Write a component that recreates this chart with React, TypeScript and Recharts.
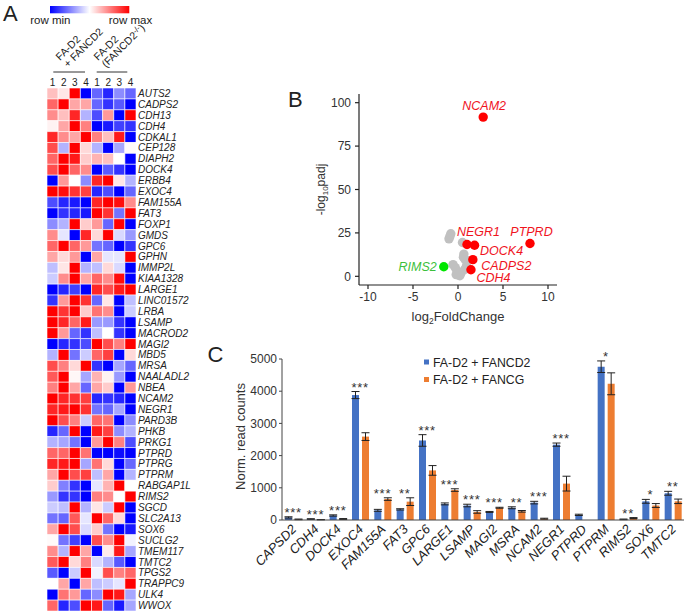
import React from "react";
import {
  Bar,
  BarChart,
  Cell,
  ComposedChart,
  ErrorBar,
  Scatter,
  ScatterChart,
  XAxis,
  YAxis
} from "recharts";

const FONT = '"Liberation Sans", Arial, sans-serif';
const INK = "#222";

// ---- panel A: heatmap (row-scaled, -1 = row min, 1 = row max)
const heatGenes = [
  "AUTS2", "CADPS2", "CDH13", "CDH4", "CDKAL1", "CEP128", "DIAPH2", "DOCK4",
  "ERBB4", "EXOC4", "FAM155A", "FAT3", "FOXP1", "GMDS", "GPC6", "GPHN",
  "IMMP2L", "KIAA1328", "LARGE1", "LINC01572", "LRBA", "LSAMP", "MACROD2", "MAGI2",
  "MBD5", "MRSA", "NAALADL2", "NBEA", "NCAM2", "NEGR1", "PARD3B", "PHKB",
  "PRKG1", "PTPRD", "PTPRG", "PTPRM", "RABGAP1L", "RIMS2", "SGCD", "SLC2A13",
  "SOX6", "SUCLG2", "TMEM117", "TMTC2", "TPGS2", "TRAPPC9", "ULK4", "WWOX"
];
const sampleLabels = ["1", "2", "3", "4", "1", "2", "3", "4"];
const heatValues = [
  [0.25, 0.1, 1, -1, -0.6, -0.85, -0.45, -0.6],
  [0.6, 1, 0.35, 0.35, -0.6, -0.8, -0.65, -1],
  [0.45, 0.25, 0.85, -0.3, -0.7, 0.4, -1, 1],
  [0.05, 0.35, 1, 0.5, -1, -0.9, -0.75, -0.8],
  [0.85, 0.45, 0.35, 1, 0.5, 0.25, 0.9, -1],
  [0.7, -0.3, 1, 0.15, -0.3, -1, -0.35, 0.02],
  [0.6, 1, 0.9, 0.2, 0.3, 0.25, 0, -1],
  [0.7, 1, 0.6, 0.45, -1, -0.65, -0.8, -1],
  [-1, 0.4, 0, -0.45, 0.85, 1, 0.1, -0.3],
  [1, 0.95, 0.8, 0.75, -0.85, -0.7, -1, -0.6],
  [-0.7, -0.85, -0.9, -1, 0.85, 1, 0.95, 0.45],
  [-1, -0.8, -0.85, -0.9, 1, 0.8, -0.55, 1],
  [-0.45, -0.3, 1, 0.2, 0.4, -0.6, 1, -1],
  [0.45, -0.1, -1, 0.85, 0.15, 1, -0.15, -0.4],
  [0.6, 1, 0.6, 0.4, -0.55, -0.6, -1, -0.8],
  [0.35, 0.15, 0.4, -1, 0.35, -0.1, -0.1, 1],
  [-0.25, 0.1, 1, -0.3, -0.25, 0.15, -0.15, -1],
  [-0.2, 0.45, 1, 0.35, 0.6, 0.45, 0.95, -1],
  [-1, -0.85, -0.75, -1, 0.85, 0.7, 0.9, 1],
  [-0.8, 0.4, 1, 0.8, -0.6, 0.1, -1, -0.25],
  [1, 0.8, 1, 0.2, 0.55, 0.45, -1, -0.2],
  [1, 0.85, 0.6, 0.9, -0.4, -0.4, -0.8, -1],
  [1, 0.4, -0.6, -0.8, -0.25, 0, -0.8, -1],
  [-1, -0.85, -0.8, -0.7, 1, 0.7, 0.5, 1],
  [-0.3, 1, -0.55, -0.2, 0.6, 0.75, -1, 0.15],
  [0.7, 0.5, 0.15, 1, -0.8, -1, -0.35, -0.6],
  [0.65, 1, 0.03, -0.35, 0.3, 0.05, -0.4, -1],
  [0.5, 1, 0.35, -0.6, 0.35, 0.2, -1, 0.4],
  [1, 0.85, 0.8, 0.75, -0.85, -0.8, -0.85, -1],
  [0.85, 0.9, 1, 0.8, -0.55, -0.6, -0.35, -1],
  [1, 0.7, 0.5, -0.2, 0.6, 0.55, -1, -0.45],
  [-0.85, -0.6, 1, -1, 0.9, 0.75, -0.45, -0.3],
  [-0.3, -0.35, -0.55, -1, 0.4, 1, 0.5, -0.7],
  [0.6, 0.6, 1, 0.55, -1, -1, -0.95, -1],
  [0.85, 0.9, 1, -0.35, 0.55, 0.15, -1, -0.6],
  [0.35, 1, 0.7, 0.75, -0.25, 0.35, -1, -0.3],
  [0.2, -0.5, -0.8, -1, -0.1, 0.3, 1, 0],
  [-0.4, -0.8, -0.8, -1, 0.5, 0.45, 0, 1],
  [-0.2, -0.25, 1, -0.3, 0.1, -0.2, 1, -1],
  [-0.55, -0.6, 0.65, -0.1, 1, 0.6, 0.15, -1],
  [0.35, 1, 0.7, -0.15, 0.2, -0.55, -1, -0.9],
  [0.02, -0.55, -0.75, -1, 0.7, 0.45, 1, -0.05],
  [0.45, -0.3, 1, 0.35, -1, 0.08, 0.9, -0.35],
  [0.65, 1, 0.15, 0.5, -0.15, -0.3, -0.65, -1],
  [-0.65, -1, -0.2, 1, -0.05, 0.7, 0.5, 0.6],
  [0, 0.35, -1, 0.35, -0.25, -0.2, -0.1, 1],
  [-1, 0.55, 0.4, -0.6, -0.45, 1, 0.9, -0.35],
  [0.6, -0.85, -0.7, 1, 0.9, -0.6, -0.9, -0.35]
];

// ---- panel B: volcano
const greyLfc = [-0.8, -1.0, -0.9, 0.5, 0.65, 0.8, 0.6, -0.55, -0.3, -0.2, 0.35, 0.2, 0.75, 0.05, 0.95, -0.1];
const greyPadj = [24.5, 21.6, 23.0, 19.5, 12.8, 9.6, 11.0, 6.7, 5.0, 1.0, 2.0, 0.3, 4.0, 0.8, 6.0, 3.0];
const hitGenes = ["NCAM2", "NEGR1", "DOCK4", "CADPS2", "CDH4", "PTPRD", "RIMS2"];
const hitLfc = [2.8, 1.0, 1.84, 1.65, 1.44, 8.0, -1.58];
const hitPadj = [91.7, 18.3, 17.9, 9.6, 3.8, 18.9, 5.5];

// ---- panel C: normalised read counts
const barGenes = [
  "CAPSD2", "CDH4", "DOCK4", "EXOC4", "FAM155A", "FAT3", "GPC6", "LARGE1", "LSAMP",
  "MAGI2", "MSRA", "NCAM2", "NEGR1", "PTPRD", "PTPRM", "RIMS2", "SOX6", "TMTC2"
];
const fancd2Mean = [80, 30, 140, 3880, 300, 330, 2470, 500, 450, 250, 380, 540, 2340, 160, 4760, 20, 580, 830];
const fancd2Err = [20, 10, 20, 110, 30, 20, 180, 30, 40, 15, 30, 40, 50, 20, 180, 10, 60, 60];
const fancgMean = [20, 10, 30, 2590, 650, 570, 1540, 930, 250, 380, 270, 40, 1130, 0, 4230, 60, 450, 580];
const fancgErr = [10, 5, 15, 120, 40, 120, 150, 40, 40, 15, 25, 15, 230, 0, 340, 15, 60, 70];
const significance = ["***", "***", "***", "***", "***", "**", "***", "***", "***", "***", "**", "***", "***", "", "*", "**", "*", "**"];

const barSeries = [
  { key: "rescue", name: "FA-D2 + FANCD2", color: "#4472c4" },
  { key: "control", name: "FA-D2 + FANCG", color: "#ed7d31" }
];

function heatColor(v: number) {
  const k = Math.round(255 * (1 - Math.abs(v)));
  return v >= 0 ? `rgb(255,${k},${k})` : `rgb(${k},${k},255)`;
}

const heatRows = heatGenes.map((gene) => {
  const row: Record<string, string | number> = { gene };
  sampleLabels.forEach((_, j) => {
    row[`s${j}`] = 1;
  });
  return row;
});

const greyPoints = greyLfc.map((lfc, i) => ({ lfc, padj: greyPadj[i] }));
const hitPoints = hitGenes.map((gene, i) => ({ gene, lfc: hitLfc[i], padj: hitPadj[i] }));

const barRows = barGenes.map((gene, i) => ({
  gene,
  rescue: fancd2Mean[i],
  rescueErr: fancd2Err[i],
  control: fancgMean[i],
  controlErr: fancgErr[i],
  starTop: Math.max(fancd2Mean[i] + fancd2Err[i], fancgMean[i] + fancgErr[i]),
  sig: significance[i]
}));

// label placement next to each highlighted dot: [dx, dy, anchor]
const hitLabelOffset: Record<string, [number, number, string]> = {
  NCAM2: [1, -7.5, "middle"],
  NEGR1: [11.5, -8.5, "middle"],
  PTPRD: [1.5, -7.5, "middle"],
  DOCK4: [27, 10, "middle"],
  CADPS2: [33.5, 10, "middle"],
  CDH4: [22.5, 12.5, "middle"],
  RIMS2: [-7, 4.6, "end"]
};

function Heatmap() {
  return (
    <BarChart
      width={151}
      height={537}
      data={heatRows}
      layout="vertical"
      barCategoryGap={0}
      margin={{ top: 0, right: 0, bottom: 0, left: 0 }}
    >
      <XAxis
        type="number"
        orientation="top"
        domain={[0, 8]}
        ticks={sampleLabels.map((_, j) => j + 0.5)}
        tickFormatter={(v: number) => sampleLabels[Math.floor(v)]}
        interval={0}
        axisLine={false}
        tickLine={false}
        tickSize={0}
        tickMargin={2}
        height={14}
        tick={{ fontSize: 10, fill: INK }}
      />
      <YAxis
        type="category"
        dataKey="gene"
        orientation="right"
        width={62}
        interval={0}
        axisLine={false}
        tickLine={false}
        tickSize={0}
        tickMargin={2}
        tick={{ fontSize: 10, fontStyle: "italic", fill: INK }}
      />
      {sampleLabels.map((_, j) => (
        <Bar key={j} dataKey={`s${j}`} stackId="heat" isAnimationActive={false} stroke="#fff" strokeWidth={0.6}>
          {heatValues.map((row, i) => (
            <Cell key={i} fill={heatColor(row[j])} />
          ))}
        </Bar>
      ))}
    </BarChart>
  );
}

function GreyDot(props: any) {
  return <circle cx={props.cx} cy={props.cy} r={4.7} fill="#c0c0c0" />;
}

function HitDot(props: any) {
  const { cx, cy, payload } = props;
  const down = payload.lfc < 0;
  const [dx, dy, anchor] = hitLabelOffset[payload.gene];
  return (
    <g>
      <circle cx={cx} cy={cy} r={4.7} fill={down ? "#00e600" : "#ff0000"} />
      <text
        x={cx + dx}
        y={cy + dy}
        textAnchor={anchor}
        fontSize={12.5}
        fontStyle="italic"
        fill={down ? "#3cbf3c" : "#f0141e"}
      >
        {payload.gene}
      </text>
    </g>
  );
}

function Volcano() {
  return (
    <ScatterChart width={265} height={240} margin={{ top: 9, right: 8, bottom: 0, left: 19 }}>
      <XAxis
        type="number"
        dataKey="lfc"
        domain={[-11, 11]}
        ticks={[-10, -5, 0, 5, 10]}
        allowDataOverflow
        height={40}
        tickSize={4}
        tickMargin={3}
        stroke="#222"
        strokeWidth={1.2}
        tick={{ fontSize: 12, fill: "#333" }}
        label={(p: any) => {
          const vb = p.viewBox || { x: 59, y: 200, width: 198 };
          return (
            <text x={vb.x + vb.width / 2} y={vb.y + 36} textAnchor="middle" fontSize={13} fill="#333">
              log<tspan fontSize={8.5} dy={3}>2</tspan>
              <tspan dy={-3}>FoldChange</tspan>
            </text>
          );
        }}
      />
      <YAxis
        type="number"
        dataKey="padj"
        domain={[-5, 105]}
        ticks={[0, 25, 50, 75, 100]}
        allowDataOverflow
        width={40}
        tickSize={4}
        tickMargin={4}
        stroke="#222"
        strokeWidth={1.2}
        tick={{ fontSize: 12, fill: "#333" }}
        label={(p: any) => {
          const vb = p.viewBox || { x: 19, y: 9, height: 191 };
          const x = vb.x + 6;
          const y = vb.y + vb.height / 2;
          return (
            <text x={x} y={y} transform={`rotate(-90 ${x} ${y})`} textAnchor="middle" fontSize={12} fill="#333">
              -log<tspan fontSize={8} dy={3}>10</tspan>
              <tspan dy={-3}>padj</tspan>
            </text>
          );
        }}
      />
      <Scatter data={greyPoints} isAnimationActive={false} shape={GreyDot} />
      <Scatter data={hitPoints} isAnimationActive={false} shape={HitDot} />
    </ScatterChart>
  );
}

function GeneTick(props: any) {
  const { x, y, payload } = props;
  return (
    <g transform={`translate(${x + 4},${y + 10}) rotate(-45)`}>
      <text textAnchor="end" fontSize={13} fontStyle="italic" fill={INK}>
        {payload.value}
      </text>
    </g>
  );
}

function StarMark(props: any) {
  const { cx, cy, payload } = props;
  return (
    <text x={cx} y={cy} textAnchor="middle" fontSize={13} letterSpacing={0.8} fill="#333">
      {payload.sig}
    </text>
  );
}

function ReadCounts() {
  return (
    <ComposedChart
      width={459}
      height={245}
      data={barRows}
      barSize={7}
      barGap={3}
      margin={{ top: 14, right: 0, bottom: 0, left: 0 }}
    >
      <XAxis
        dataKey="gene"
        interval={0}
        tickLine={false}
        tickSize={0}
        tickMargin={0}
        height={70}
        stroke="#444"
        tick={<GeneTick />}
      />
      <YAxis
        domain={[0, 5000]}
        ticks={[0, 1000, 2000, 3000, 4000, 5000]}
        width={57}
        tickSize={3}
        tickMargin={2}
        stroke="#444"
        tick={{ fontSize: 12, fill: "#333" }}
        label={(p: any) => {
          const vb = p.viewBox || { x: 0, y: 14, height: 161 };
          const x = vb.x + 20;
          const y = vb.y + vb.height / 2 - 3;
          return (
            <text x={x} y={y} transform={`rotate(-90 ${x} ${y})`} textAnchor="middle" fontSize={13} fill="#333">
              Norm. read counts
            </text>
          );
        }}
      />
      {barSeries.map((s) => (
        <Bar key={s.key} dataKey={s.key} name={s.name} fill={s.color} isAnimationActive={false}>
          <ErrorBar dataKey={`${s.key}Err`} width={4} stroke="#222" strokeWidth={1} />
        </Bar>
      ))}
      <Scatter dataKey="starTop" legendType="none" isAnimationActive={false} shape={StarMark} />
    </ComposedChart>
  );
}

function Annotations() {
  return (
    <svg
      width={685}
      height={613}
      style={{ position: "absolute", left: 0, top: 0, pointerEvents: "none" }}
      fontFamily={FONT}
    >
      <defs>
        <linearGradient id="rowScale" x1="0" x2="1" y1="0" y2="0">
          <stop offset="0" stopColor="#0000ff" />
          <stop offset="0.5" stopColor="#ffffff" />
          <stop offset="1" stopColor="#ff0000" />
        </linearGradient>
      </defs>
      <text x={3} y={21} fontSize={22} fill={INK}>A</text>
      <text x={288} y={106.5} fontSize={22} fill={INK}>B</text>
      <text x={207.5} y={362} fontSize={22} fill={INK}>C</text>

      <rect x={50} y={6} width={79.3} height={7.3} fill="url(#rowScale)" />
      <text x={50.3} y={23.5} fontSize={11.5} textAnchor="middle" fill={INK}>row min</text>
      <text x={130.5} y={23.5} fontSize={11.5} textAnchor="middle" fill={INK}>row max</text>

      <text transform="translate(60,61) rotate(-45)" fontSize={10.5} fill={INK}>FA-D2</text>
      <text transform="translate(68,68) rotate(-45)" fontSize={10.5} fill={INK}>+ FANCD2</text>
      <text transform="translate(98,61) rotate(-45)" fontSize={10.5} fill={INK}>FA-D2</text>
      <text transform="translate(106,68) rotate(-45)" fontSize={10.5} fill={INK}>
        (FANCD2<tspan fontSize={8} dy={-3}>-/-</tspan>
        <tspan dy={3}>)</tspan>
      </text>
      <line x1={53.3} x2={85} y1={72} y2={72} stroke="#333" strokeWidth={1} />
      <line x1={96.7} x2={127.3} y1={72} y2={72} stroke="#333" strokeWidth={1} />

      {barSeries.map((s, i) => (
        <g key={s.key}>
          <rect x={424} y={359.5 + i * 17.5} width={5} height={5} fill={s.color} />
          <text x={433} y={366.5 + i * 17.5} fontSize={12.3} fill={INK}>
            {s.name}
          </text>
        </g>
      ))}
    </svg>
  );
}

export default function App() {
  return (
    <div
      style={{
        position: "absolute",
        left: 0,
        top: 0,
        width: 685,
        height: 613,
        background: "#fff",
        overflow: "hidden",
        fontFamily: FONT
      }}
    >
      <Annotations />
      <div style={{ position: "absolute", left: 47, top: 74 }}>
        <Heatmap />
      </div>
      <div style={{ position: "absolute", left: 300, top: 85 }}>
        <Volcano />
      </div>
      <div style={{ position: "absolute", left: 225, top: 345 }}>
        <ReadCounts />
      </div>
    </div>
  );
}
